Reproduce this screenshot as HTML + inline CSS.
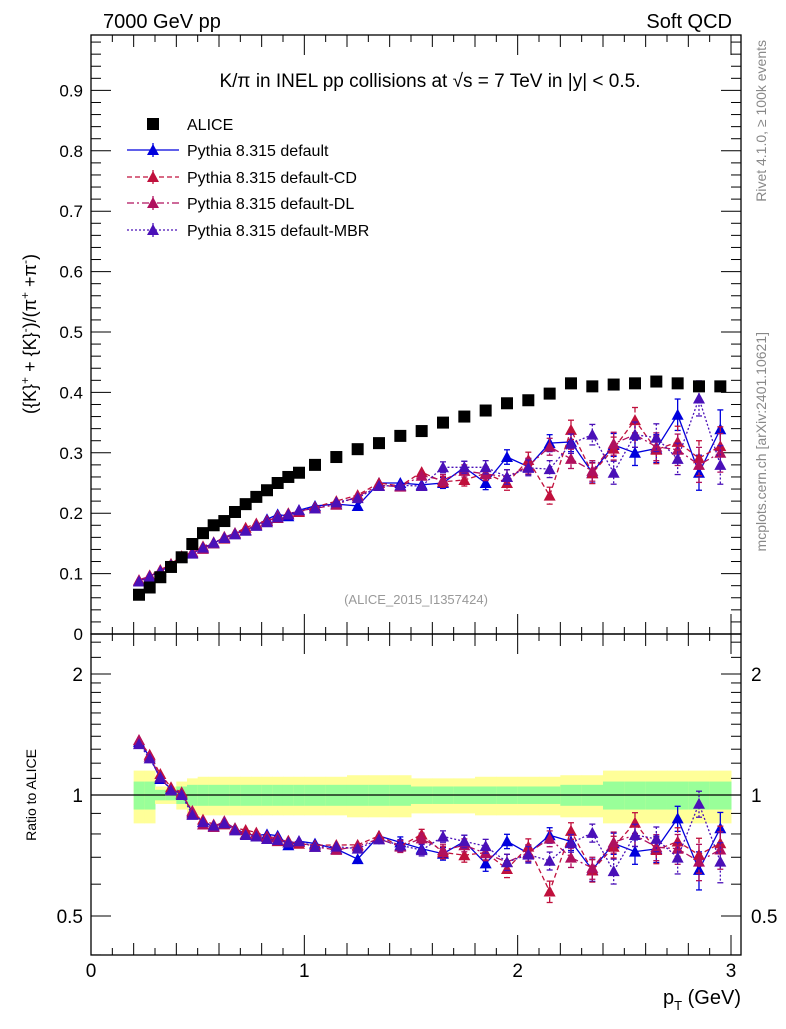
<!DOCTYPE html>
<html><head><meta charset="utf-8"><style>
body{margin:0;background:#fff;}
svg text{font-family:"Liberation Sans",sans-serif;}
</style></head><body>
<svg id="chart" width="786" height="1024" xmlns="http://www.w3.org/2000/svg">
<text x="103" y="28" font-size="20">7000 GeV pp</text>
<text x="732" y="28" font-size="20" text-anchor="end">Soft QCD</text>
<text x="430" y="87" font-size="19" text-anchor="middle">K/π in INEL pp collisions at √s =  7 TeV in |y| &lt; 0.5.</text>
<text x="416" y="604" font-size="13" fill="#999" text-anchor="middle">(ALICE_2015_I1357424)</text>
<text transform="translate(766,40) rotate(-90)" font-size="14" fill="#888" text-anchor="end">Rivet 4.1.0, ≥ 100k events</text>
<text transform="translate(766,332) rotate(-90)" font-size="14" fill="#888" text-anchor="end">mcplots.cern.ch [arXiv:2401.10621]</text>
<text transform="translate(36,334) rotate(-90)" font-size="18" text-anchor="middle">({K}<tspan dy="-7" font-size="12">+</tspan><tspan dy="7"> + {K}</tspan><tspan dy="-7" font-size="12">-</tspan><tspan dy="7">)/(π</tspan><tspan dy="-7" font-size="12">+</tspan><tspan dy="7"> +π</tspan><tspan dy="-7" font-size="12">-</tspan><tspan dy="7">)</tspan></text>
<text transform="translate(36,795) rotate(-90)" font-size="14" text-anchor="middle">Ratio to ALICE</text>
<text x="741" y="1004" font-size="20" text-anchor="end">p<tspan font-size="13" dy="6">T</tspan><tspan dy="-6"> (GeV)</tspan></text>
<g id="g"></g>
</svg>
<script>
const xVals=[0.225,0.275,0.325,0.375,0.425,0.475,0.525,0.575,0.625,0.675,0.725,0.775,0.825,0.875,0.925,0.975,1.05,1.15,1.25,1.35,1.45,1.55,1.65,1.75,1.85,1.95,2.05,2.15,2.25,2.35,2.45,2.55,2.65,2.75,2.85,2.95];
const binW=[0.05,0.05,0.05,0.05,0.05,0.05,0.05,0.05,0.05,0.05,0.05,0.05,0.05,0.05,0.05,0.05,0.1,0.1,0.1,0.1,0.1,0.1,0.1,0.1,0.1,0.1,0.1,0.1,0.1,0.1,0.1,0.1,0.1,0.1,0.1,0.1];
const alice=[0.065,0.077,0.094,0.111,0.127,0.149,0.167,0.180,0.187,0.202,0.215,0.227,0.238,0.250,0.260,0.267,0.280,0.293,0.306,0.316,0.328,0.336,0.350,0.360,0.370,0.382,0.387,0.398,0.415,0.410,0.413,0.415,0.418,0.415,0.410,0.410];
const totRel=[0.15,0.15,0.05,0.05,0.08,0.10,0.11,0.11,0.11,0.11,0.11,0.11,0.11,0.11,0.11,0.11,0.11,0.11,0.12,0.12,0.12,0.10,0.10,0.10,0.11,0.11,0.11,0.11,0.12,0.12,0.15,0.15,0.15,0.15,0.15,0.15];
const statRel=[0.08,0.08,0.03,0.03,0.05,0.06,0.06,0.06,0.06,0.06,0.06,0.06,0.06,0.06,0.06,0.06,0.06,0.06,0.06,0.06,0.06,0.05,0.05,0.05,0.05,0.05,0.05,0.05,0.06,0.06,0.08,0.08,0.08,0.08,0.08,0.08];
const mcDefault=[0.088,0.096,0.103,0.115,0.128,0.135,0.143,0.150,0.160,0.167,0.172,0.180,0.190,0.198,0.195,0.205,0.212,0.215,0.212,0.250,0.250,0.247,0.250,0.276,0.250,0.293,0.277,0.316,0.318,0.267,0.313,0.300,0.307,0.363,0.267,0.339];
const mcCD=[0.089,0.097,0.106,0.116,0.129,0.134,0.145,0.152,0.158,0.167,0.176,0.183,0.188,0.192,0.200,0.202,0.210,0.220,0.230,0.250,0.245,0.268,0.252,0.255,0.266,0.250,0.288,0.229,0.338,0.266,0.307,0.354,0.305,0.318,0.291,0.311];
const mcDL=[0.089,0.096,0.104,0.114,0.128,0.136,0.141,0.150,0.161,0.166,0.172,0.181,0.187,0.196,0.198,0.204,0.208,0.214,0.228,0.246,0.244,0.262,0.255,0.270,0.265,0.260,0.278,0.310,0.290,0.270,0.315,0.330,0.310,0.305,0.280,0.300];
const mcMBR=[0.087,0.095,0.104,0.114,0.127,0.133,0.143,0.151,0.159,0.165,0.171,0.179,0.185,0.193,0.198,0.205,0.208,0.218,0.225,0.245,0.246,0.245,0.276,0.276,0.276,0.260,0.275,0.273,0.315,0.330,0.267,0.330,0.325,0.290,0.390,0.280];
const mcErr=[0.002,0.002,0.002,0.002,0.002,0.002,0.002,0.002,0.003,0.003,0.003,0.003,0.003,0.004,0.004,0.004,0.005,0.005,0.006,0.007,0.008,0.008,0.009,0.010,0.011,0.012,0.013,0.014,0.016,0.017,0.019,0.021,0.023,0.026,0.029,0.032];
const mainTicks=[0.1,0.2,0.3,0.4,0.5,0.6,0.7,0.8,0.9];
const ratioTicks=[0.5,1,2];
const xTicks=[0,1,2,3];

const L=91,R=741,T=35,MB=634,RB=955;
const X=v=>L+(v)*213.33;
const Y=v=>MB-v*604;
const YR=r=>795-121*Math.log2(r);
const g=document.getElementById('g');
const NS='http://www.w3.org/2000/svg';
function mk(tag,attrs,parent){const e=document.createElementNS(NS,tag);for(const k in attrs)e.setAttribute(k,attrs[k]);(parent||g).appendChild(e);return e;}

// ratio bands
for(let i=0;i<xVals.length;i++){
  let x0=X(xVals[i]-binW[i]/2),x1=X(xVals[i]+binW[i]/2);
  if(i==0)x0=X(0.2);
  const y=mk('rect',{x:x0,y:YR(1+totRel[i]),width:x1-x0+0.5,height:YR(1-totRel[i])-YR(1+totRel[i]),fill:'#ffff99'});
  
  
  const gr=mk('rect',{x:x0,y:YR(1+statRel[i]),width:x1-x0+0.5,height:YR(1-statRel[i])-YR(1+statRel[i]),fill:'#99ff99'});
  
  
}
const one=mk('line',{x1:L,x2:R,y1:YR(1),y2:YR(1),stroke:'#000','stroke-width':1.3});



// frames
const f1=mk('rect',{x:L,y:T,width:R-L,height:MB-T,fill:'none',stroke:'#000','stroke-width':1.3});


const f2=mk('rect',{x:L,y:MB,width:R-L,height:RB-MB,fill:'none',stroke:'#000','stroke-width':1.3});



// main y ticks
for(let k=1;k<50;k++){const v=k*0.02;const y=Y(v);if(y<T)break;const major=(k%5==0);const len=major?20:10;
  mk('line',{x1:L,x2:L+len,y1:y,y2:y,stroke:'#000'});mk('line',{x1:R,x2:R-len,y1:y,y2:y,stroke:'#000'});}
mainTicks.forEach(v=>{const t=mk('text',{x:L-8,y:Y(v)+6,'font-size':17,'text-anchor':'end'});t.textContent=v.toFixed(1);
  
  });
{const t=mk('text',{x:L-8,y:640,'font-size':17,'text-anchor':'end'});t.textContent='0';
 
 }
// ratio ticks
[0.4,0.6,0.7,0.8,0.9,1.1,1.2,1.3,1.4,1.5,1.6,1.7,1.8,1.9,2.2,2.4].forEach(r=>{const y=YR(r);if(y<MB||y>RB)return;mk('line',{x1:L,x2:L+10,y1:y,y2:y,stroke:'#000'});mk('line',{x1:R,x2:R-10,y1:y,y2:y,stroke:'#000'});});
ratioTicks.forEach(r=>{const y=YR(r);mk('line',{x1:L,x2:L+20,y1:y,y2:y,stroke:'#000'});mk('line',{x1:R,x2:R-20,y1:y,y2:y,stroke:'#000'});
  const s=r.toString();
  const t=mk('text',{x:L-8,y:y+7,'font-size':19,'text-anchor':'end'});t.textContent=s;
  
  
  const t2=mk('text',{x:R+10,y:y+7,'font-size':19});t2.textContent=s;
  
  });
// x ticks
for(let k=1;k<31;k++){const v=k*0.1;const x=X(v);const len=(k%10==0)?20:(k%2==0?12:7);
  mk('line',{x1:x,x2:x,y1:RB,y2:RB-len,stroke:'#000'});mk('line',{x1:x,x2:x,y1:MB,y2:MB-len,stroke:'#000'});mk('line',{x1:x,x2:x,y1:MB,y2:MB+len,stroke:'#000'});mk('line',{x1:x,x2:x,y1:T,y2:T+len,stroke:'#000'});}
xTicks.forEach(v=>{const t=mk('text',{x:X(v),y:977,'font-size':19,'text-anchor':'middle'});t.textContent=v;
  
  });

// series
const series=[
 {name:'pythia-default',vals:mcDefault,color:'#0000dd',dash:'',label:'Pythia 8.315 default'},
 {name:'pythia-default-cd',vals:mcCD,color:'#c0103c',dash:'5,3',label:'Pythia 8.315 default-CD'},
 {name:'pythia-default-dl',vals:mcDL,color:'#b0105e',dash:'7,3,2,3',label:'Pythia 8.315 default-DL'},
 {name:'pythia-default-mbr',vals:mcMBR,color:'#4a10b8',dash:'2,2',label:'Pythia 8.315 default-MBR'}];
function tri(x,y,c,parent,name){const p=mk('polygon',{points:`${x-6},${y+5} ${x+6},${y+5} ${x},${y-6}`,fill:c},parent);
  
  }
series.forEach(s=>{
  const sg=mk('g',{});
  
  
  let pm=[],pr=[];
  s.vals.forEach((v,i)=>{pm.push(X(xVals[i])+','+Y(v));pr.push(X(xVals[i])+','+YR(v/alice[i]));});
  mk('polyline',{points:pm.join(' '),fill:'none',stroke:s.color,'stroke-width':1.3,'stroke-dasharray':s.dash},sg);
  mk('polyline',{points:pr.join(' '),fill:'none',stroke:s.color,'stroke-width':1.3,'stroke-dasharray':s.dash},sg);
  s.vals.forEach((v,i)=>{const x=X(xVals[i]);const e=mcErr[i];
    const y1=Y(v+e),y2=Y(v-e);
    mk('line',{x1:x,x2:x,y1:y1,y2:y2,stroke:s.color,'stroke-width':1.3,'stroke-dasharray':s.dash},sg);
    if(y2-y1>10){mk('line',{x1:x-3,x2:x+3,y1:y1,y2:y1,stroke:s.color,'stroke-width':1.3},sg);mk('line',{x1:x-3,x2:x+3,y1:y2,y2:y2,stroke:s.color,'stroke-width':1.3},sg);}
    const r1=YR((v+e)/alice[i]),r2=YR((v-e)/alice[i]);
    mk('line',{x1:x,x2:x,y1:r1,y2:r2,stroke:s.color,'stroke-width':1.3,'stroke-dasharray':s.dash},sg);
    if(r2-r1>10){mk('line',{x1:x-3,x2:x+3,y1:r1,y2:r1,stroke:s.color,'stroke-width':1.3},sg);mk('line',{x1:x-3,x2:x+3,y1:r2,y2:r2,stroke:s.color,'stroke-width':1.3},sg);}
    tri(x,Y(v),s.color,sg,s.name+'-point');
    tri(x,YR(v/alice[i]),s.color,sg,s.name+'-ratio-point');
  });
});
// alice
alice.forEach((v,i)=>{const r=mk('rect',{x:X(xVals[i])-6,y:Y(v)-6,width:12,height:12,fill:'#000'});
  
  });

// legend
const lg=mk('g',{});


const ly=[124,150,177,203,230];
mk('rect',{x:147,y:ly[0]-6,width:12,height:12,fill:'#000'},lg);
{const t=mk('text',{x:187,y:ly[0]+6,'font-size':16},lg);t.textContent='ALICE';
 
 }
series.forEach((s,k)=>{const y=ly[k+1];
  mk('line',{x1:127,x2:179,y1:y,y2:y,stroke:s.color,'stroke-width':1.3,'stroke-dasharray':s.dash},lg);
  mk('line',{x1:153,x2:153,y1:y-7,y2:y+7,stroke:s.color,'stroke-width':1.3},lg);
  tri(153,y,s.color,lg,'legend-marker');
  const t=mk('text',{x:187,y:y+6,'font-size':16},lg);t.textContent=s.label;
  
  });
</script>
</body></html>
